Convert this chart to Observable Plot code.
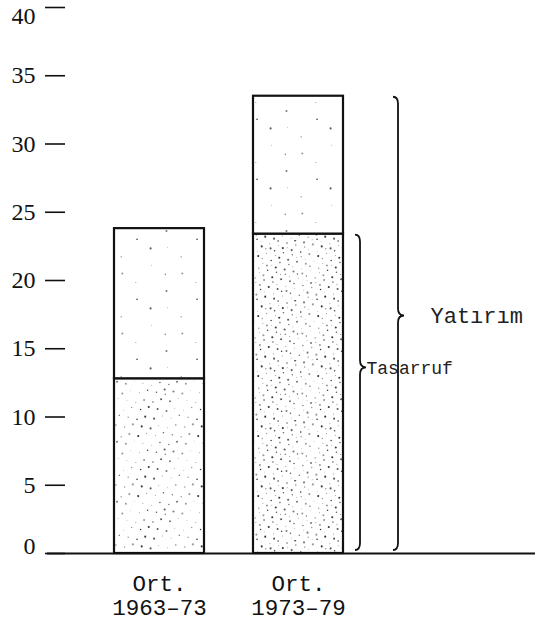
<!DOCTYPE html>
<html>
<head>
<meta charset="utf-8">
<script src="https://cdn.jsdelivr.net/npm/d3@7"></script>
<script src="https://cdn.jsdelivr.net/npm/@observablehq/plot@0.6"></script>
<style>
  html, body { margin: 0; padding: 0; background: #fff; }
</style>
</head>
<body>
<div id="chart"></div>
<script>
// ---- data ----
const periods = ["1963–73", "1973–79"];
const periodPrefix = "Ort.";
const savings = [12.8, 23.4];      // Tasarruf (lower, dense segment)
const investment = [23.8, 33.5];   // Yatırım (full bar height)
const yTicks = [0, 5, 10, 15, 20, 25, 30, 35, 40];
const braceLabels = ["Tasarruf", "Yatırım"];
const braceTips = [13.6, 17.4];    // where each brace points (value units)

// table built from the arrays
const segments = periods.flatMap((p, i) => [
  {period: p, idx: i, part: "Tasarruf", y1: 0, y2: savings[i]},
  {period: p, idx: i, part: "Yatırım", y1: savings[i], y2: investment[i]}
]);
const patternFor = d => d.part === "Yatırım" ? "url(#stipple-light)"
  : (d.idx === 0 ? "url(#stipple-mid)" : "url(#stipple-dense)");

const ink = "#111";
const yMin = yTicks[0], yMax = yTicks[yTicks.length - 1];
const labelFont = {fontSize: 24, fontFamily: "Liberation Serif", fill: ink};

const plot = Plot.plot({
  width: 547,
  height: 630,
  marginTop: 7,
  marginBottom: 77,
  marginLeft: 65,
  marginRight: 12,
  style: {background: "#fff", color: ink, fontFamily: "Liberation Serif", fontSize: "24px"},
  x: {domain: periods, range: [113, 343], paddingInner: 0.355, paddingOuter: 0},
  y: {domain: [yMin, yMax]},
  marks: [
    Plot.axisY({ticks: yTicks, tickSize: 20, tickPadding: 10, strokeWidth: 1.6,
      tickFormat: d => (d === yMin || d === yMax) ? "" : String(d),
      fontSize: 24, fontFamily: "Liberation Serif", label: null}),
    // the end labels sit a little off their ticks in the original
    Plot.text([yMax], {y: d => d, text: d => String(d), frameAnchor: "left",
      textAnchor: "end", dx: -30, dy: 9, ...labelFont}),
    Plot.text([yMin], {y: d => d, text: d => String(d), frameAnchor: "left",
      textAnchor: "end", dx: -30, dy: -7, ...labelFont}),
    Plot.axisX({tickSize: 0, tickPadding: 21, tickFormat: d => periodPrefix + "\n" + d,
      fontSize: 22.5, fontFamily: "Liberation Mono", lineHeight: 1.05, label: null}),
    Plot.rectY(segments, {x: "period", y1: "y1", y2: "y2", fill: patternFor,
      stroke: ink, strokeWidth: 2.2}),
    Plot.ruleY([0], {insetLeft: -18, stroke: ink, strokeWidth: 2}),
    Plot.text([braceLabels[0]], {x: () => periods[1], y: () => braceTips[0], text: d => d,
      dx: 68, textAnchor: "start", fontFamily: "Liberation Mono", fontSize: 18, fill: "#222"}),
    Plot.text([braceLabels[1]], {x: () => periods[1], y: () => braceTips[1], text: d => d,
      dx: 132, textAnchor: "start", fontFamily: "Liberation Mono", fontSize: 22,
      fill: "#222", style: "letter-spacing:3px"})
  ]
});

// ---- stipple patterns ----
const svg = d3.select(plot);
const defs = svg.insert("defs", ":first-child");
function stipple(id, n, tile) {
  const p = defs.append("pattern").attr("id", id)
    .attr("patternUnits", "userSpaceOnUse").attr("width", tile).attr("height", tile);
  p.append("rect").attr("width", tile).attr("height", tile).attr("fill", "#fff");
  for (let i = 1; i <= n; i++) {
    const x = ((i * 0.7548776662) % 1) * tile;
    const y = ((i * 0.5698402910) % 1) * tile;
    p.append("circle").attr("cx", x).attr("cy", y)
      .attr("r", 0.45 + (i % 3) * 0.3)
      .attr("fill", "#222").attr("fill-opacity", 0.45 + (i % 4) * 0.15);
  }
}
stipple("stipple-light", 9, 60);
stipple("stipple-mid", 50, 60);
stipple("stipple-dense", 95, 60);

// ---- braces, positioned through Plot's own scales ----
const sx = plot.scale("x"), sy = plot.scale("y");
const barRight = sx.apply(periods[1]) + sx.bandwidth;
function bracePath(x, yTop, yBot, yTip, hook, tip) {
  const r = 7;
  return `M${x - hook},${yTop} Q${x},${yTop} ${x},${yTop + r}`
    + ` L${x},${yTip - r} Q${x},${yTip} ${x + tip},${yTip}`
    + ` Q${x},${yTip} ${x},${yTip + r}`
    + ` L${x},${yBot - r} Q${x},${yBot} ${x - hook},${yBot}`;
}
const braces = [
  {x: barRight + 17, top: savings[1], tip: braceTips[0]},
  {x: barRight + 55, top: investment[1], tip: braceTips[1]}
];
const g = svg.append("g").attr("fill", "none").attr("stroke", ink).attr("stroke-width", 1.8);
for (const b of braces) {
  g.append("path").attr("d", bracePath(b.x, sy.apply(b.top) + 1, sy.apply(0) - 3, sy.apply(b.tip), 5, 6));
}

document.getElementById("chart").appendChild(plot);
</script>
</body>
</html>
